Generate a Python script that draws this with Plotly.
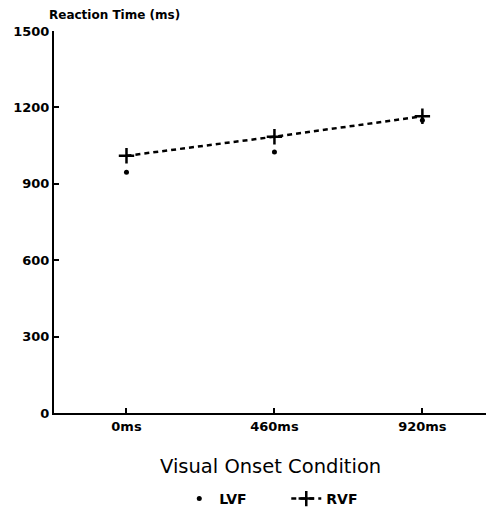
import plotly.graph_objects as go

conditions = ["0ms", "460ms", "920ms"]
x_pos = [0, 1, 2]
lvf = [945, 1025, 1150]
rvf = [1010, 1085, 1165]
y_ticks = [0, 300, 600, 900, 1200, 1500]

FONT = "DejaVu Sans, Liberation Sans, Arial, sans-serif"

fig = go.Figure()
fig.add_trace(go.Scatter(
    x=x_pos, y=lvf, mode="markers", name="LVF",
    marker=dict(symbol="circle", size=5, color="black"),
))
fig.add_trace(go.Scatter(
    x=x_pos, y=rvf, mode="lines+markers", name="RVF",
    line=dict(color="black", width=2.5, dash="5px,4px"),
    marker=dict(symbol="cross-thin", size=11, line=dict(width=2.5, color="black")),
))

fig.update_layout(
    width=486, height=515,
    margin=dict(l=54, r=0, t=31, b=101),
    plot_bgcolor="white", paper_bgcolor="white",
    font=dict(family=FONT, color="black", size=13),
    showlegend=True,
    legend=dict(orientation="h", x=0.29, xanchor="left", y=-0.2245, yanchor="middle",
                font=dict(size=14, family=FONT, weight="bold"),
                entrywidth=62, entrywidthmode="pixels", tracegroupgap=0,
                bgcolor="rgba(0,0,0,0)"),
    annotations=[
        dict(text="Reaction Time (ms)", xref="paper", yref="paper",
             x=-0.016, y=1.0, xanchor="left", yanchor="bottom", yshift=7,
             showarrow=False, font=dict(size=12, color="black", family=FONT, weight="bold")),
        dict(text="Visual Onset Condition", xref="paper", yref="paper",
             x=0.502, y=-0.141, xanchor="center", yanchor="middle",
             showarrow=False, font=dict(size=19.5, color="black", family=FONT)),
    ],
)
fig.update_xaxes(
    range=[-0.49, 2.43], tickvals=x_pos, ticktext=conditions,
    showline=True, linecolor="black", linewidth=2,
    ticks="inside", ticklen=5, tickwidth=1.5, tickcolor="black",
    showgrid=False, zeroline=False, automargin=False,
    tickfont=dict(size=13, family=FONT, weight="bold"),
)
fig.update_yaxes(
    range=[0, 1500], tickvals=y_ticks,
    showline=True, linecolor="black", linewidth=2,
    ticks="inside", ticklen=5, tickwidth=1.5, tickcolor="black",
    showgrid=False, zeroline=False, automargin=False,
    tickfont=dict(size=13, family=FONT, weight="bold"),
)

fig.write_html("out.html")
